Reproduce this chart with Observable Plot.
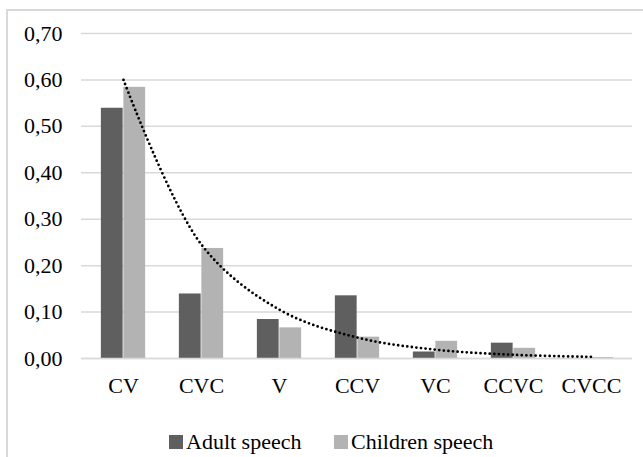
<!DOCTYPE html>
<html>
<head>
<meta charset="utf-8">
<script src="https://cdn.jsdelivr.net/npm/d3@7"></script>
<script src="https://cdn.jsdelivr.net/npm/@observablehq/plot@0.6"></script>
<style>
  html, body { margin: 0; padding: 0; background: #fff; }
  #page { position: relative; width: 643px; height: 457px; overflow: hidden; font-family: 'Liberation Serif', 'Times New Roman', serif; }
  #frame { position: absolute; left: 6px; top: 9px; width: 660px; height: 470px; border-top: 2px solid #d9d9d9; border-left: 2px solid #d9d9d9; }
  #chart { position: absolute; left: 0; top: 0; }
  #chart svg, #chart svg text { font-family: 'Liberation Serif', 'Times New Roman', serif !important; }
  #legend { position: absolute; top: 430px; left: 0; width: 643px; font-size: 22px; line-height: 24px; color: #000; }
  .item { position: absolute; display: flex; align-items: center; white-space: nowrap; }
  .sw { width: 14px; height: 14px; margin-right: 3px; }
</style>
</head>
<body>
<div id="page">
  <div id="frame"></div>
  <div id="chart"></div>
  <div id="legend"></div>
</div>
<script>
const categories = ["CV", "CVC", "V", "CCV", "VC", "CCVC", "CVCC"];
const adultSpeech = [0.539, 0.139, 0.084, 0.135, 0.014, 0.033, 0.000];
const childrenSpeech = [0.584, 0.237, 0.066, 0.046, 0.037, 0.022, 0.002];
const trendline = [0.600, 0.245, 0.105, 0.045, 0.019, 0.008, 0.0035];
const yTicks = [0, 0.1, 0.2, 0.3, 0.4, 0.5, 0.6, 0.7];
const seriesNames = ["Adult speech", "Children speech"];
const seriesColors = ["#5f5f5f", "#b3b3b3"];

const adultData = categories.map((c, i) => ({cat: c, v: adultSpeech[i]}));
const childData = categories.map((c, i) => ({cat: c, v: childrenSpeech[i]}));
const trendData = categories.map((c, i) => ({cat: c, v: trendline[i]}));

const W = 643, H = 420;
const mL = 81, mR = 11, mT = 33, mB = 62;
const band = (W - mL - mR) / categories.length;
const half = band / 2;
const barW = 22.5;
const inner = half - barW;

const fmt = d => d.toFixed(2).replace(".", ",");

const chart = Plot.plot({
  width: W,
  height: H,
  marginLeft: mL,
  marginRight: mR,
  marginTop: mT,
  marginBottom: mB,
  style: {background: "none", fontFamily: "'Liberation Serif', 'Times New Roman', serif", fontSize: "22px", color: "#000"},
  x: {type: "band", domain: categories, padding: 0},
  y: {domain: [0, 0.7]},
  marks: [
    Plot.gridY(yTicks, {stroke: "#d9d9d9", strokeOpacity: 1, strokeWidth: 1.5}),
    Plot.barY(adultData, {x: "cat", y: "v", fill: seriesColors[0], insetLeft: inner, insetRight: half}),
    Plot.barY(childData, {x: "cat", y: "v", fill: seriesColors[1], insetLeft: half, insetRight: inner}),
    Plot.ruleY([0], {stroke: "#d9d9d9", strokeWidth: 1.5}),
    Plot.line(trendData, {x: "cat", y: "v", curve: "catmull-rom", stroke: "#000", strokeWidth: 2.8, strokeDasharray: "0 4.6", strokeLinecap: "round"}),
    Plot.axisX({tickSize: 0, tickPadding: 19, label: null, fontSize: 22}),
    Plot.axisY({ticks: yTicks, tickSize: 0, tickPadding: 19, tickFormat: fmt, label: null, fontSize: 22})
  ]
});
document.getElementById("chart").appendChild(chart);

const legend = document.getElementById("legend");
const lefts = [169, 334];
seriesNames.forEach((n, i) => {
  const it = document.createElement("div");
  it.className = "item";
  it.style.left = lefts[i] + "px";
  const sw = document.createElement("div");
  sw.className = "sw";
  sw.style.background = seriesColors[i];
  const t = document.createElement("span");
  t.textContent = n;
  it.appendChild(sw);
  it.appendChild(t);
  legend.appendChild(it);
});
</script>
</body>
</html>
